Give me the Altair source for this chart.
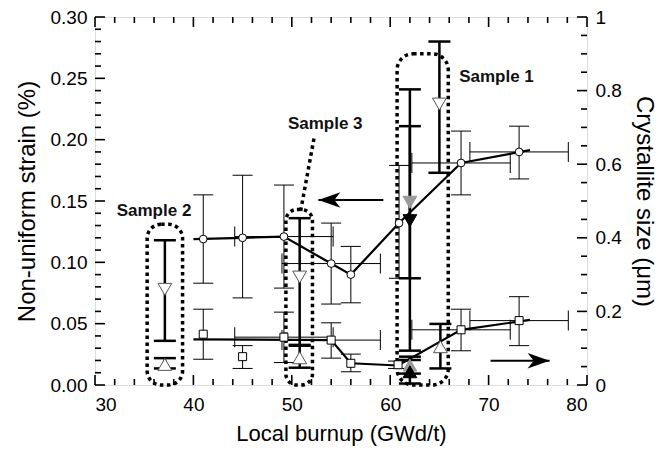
import altair as alt
import pandas as pd

# ---------------- data ----------------
# Non-uniform strain (open circles, left axis, %)
c_x  = [41.0, 45.0, 49.2, 54.0, 56.0, 60.9, 67.2, 73.1]
c_y  = [0.119, 0.120, 0.121, 0.099, 0.090, 0.132, 0.181, 0.190]
c_lo = [0.083, 0.071, 0.079, 0.066, 0.067, 0.087, 0.155, 0.168]
c_hi = [0.155, 0.171, 0.163, 0.132, 0.113, 0.179, 0.207, 0.211]
# circles that carry a horizontal (burnup) error bar
cx_y  = [0.121, 0.099, 0.181, 0.190]
cx_lo = [44.2, 49.0, 62.2, 68.1]
cx_hi = [54.2, 59.0, 72.2, 78.1]
# trend line through the circles
cl_x = [40.0, 45.0, 49.2, 54.0, 56.0, 60.9, 67.2, 74.2]
cl_y = [0.119, 0.120, 0.121, 0.099, 0.090, 0.132, 0.181, 0.1915]

# Crystallite size (open squares, right axis, um)
s_x  = [41.0, 45.0, 49.2, 54.0, 56.0, 60.8, 67.2, 73.1]
s_y  = [0.138, 0.077, 0.130, 0.122, 0.059, 0.055, 0.150, 0.175]
s_lo = [0.070, 0.045, 0.061, 0.073, 0.036, 0.045, 0.093, 0.107]
s_hi = [0.206, 0.107, 0.198, 0.169, 0.084, 0.065, 0.206, 0.240]
sx_y  = [0.130, 0.122, 0.150, 0.175]
sx_lo = [44.2, 49.0, 62.2, 68.1]
sx_hi = [54.2, 59.0, 72.2, 78.1]
sl_x = [40.0, 54.0, 56.0, 60.8, 67.2, 74.2]
sl_y = [0.124, 0.122, 0.059, 0.053, 0.150, 0.177]

# Samples: down triangles = strain (left axis), up triangles = size (right axis)
dt_x    = [37.1, 50.8, 65.0, 62.0, 62.0]
dt_y    = [0.078, 0.088, 0.229, 0.149, 0.134]
dt_lo   = [0.036, 0.032, 0.173, 0.087, 0.028]
dt_hi   = [0.118, 0.136, 0.280, 0.211, 0.241]
dt_kind = ["open", "open", "open", "gray", "black"]
ut_x    = [37.1, 50.8, 65.1, 62.0, 62.0]
ut_y    = [0.056, 0.074, 0.104, 0.054, 0.036]
ut_lo   = [0.045, 0.047, 0.045, 0.031, 0.004]
ut_hi   = [0.073, 0.109, 0.166, 0.077, 0.068]
ut_kind = ["open", "open", "open", "gray", "black"]

# annotations
sample_names = ["Sample 1", "Sample 2", "Sample 3"]
label_x = [70.8, 36.0, 53.4]
label_y = [0.251, 0.142, 0.213]
box_x1 = [60.7, 35.3, 49.4]
box_x2 = [65.9, 38.9, 52.1]
box_y1 = [0.0, 0.0, 0.0]
box_y2 = [0.270, 0.131, 0.143]
conn_x = [50.9, 52.3]
conn_y = [0.142, 0.203]
arrowL_tip, arrowL_tail, arrowL_y = 52.7, 59.3, 0.1508   # left axis
arrowR_tail, arrowR_tip, arrowR_y = 70.2, 76.2, 0.066    # right axis

x_major = [30, 40, 50, 60, 70, 80]
x_minor = [v for v in range(32, 80, 2) if v % 10]
yl_labels = [0.0, 0.05, 0.10, 0.15, 0.20, 0.25, 0.30]
yl_minor = [round(i * 0.01, 2) for i in range(31) if i % 5]
yr_labels = [0.0, 0.2, 0.4, 0.6, 0.8, 1.0]
yr_minor = [round(i * 0.05, 2) for i in range(21) if i % 4]

# ---------------- chart ----------------
W, H = 492, 368
FONT = "Liberation Sans"


def xs():
    return alt.Scale(domain=[30, 80], nice=False, zero=False)


def yL():
    return alt.Scale(domain=[0, 0.30], nice=False, zero=False)


def yR():
    return alt.Scale(domain=[0, 1], nice=False, zero=False)


def X(f):
    return alt.X(f, type="quantitative", scale=xs(), axis=None)


def YL(f):
    return alt.Y(f, type="quantitative", scale=yL(), axis=None)


def YR(f):
    return alt.Y(f, type="quantitative", scale=yR(), axis=None)


circ = pd.DataFrame(dict(x=c_x, y=c_y, lo=c_lo, hi=c_hi))
circ_caps = pd.DataFrame(dict(x=c_x * 2, y=c_lo + c_hi))
circ_h = pd.DataFrame(dict(y=cx_y, lo=cx_lo, hi=cx_hi))
circ_hcaps = pd.DataFrame(dict(x=cx_lo + cx_hi, y=cx_y * 2))
circ_line = pd.DataFrame(dict(x=cl_x, y=cl_y))

sq = pd.DataFrame(dict(x=s_x, y=s_y, lo=s_lo, hi=s_hi))
sq_caps = pd.DataFrame(dict(x=s_x * 2, y=s_lo + s_hi))
sq_h = pd.DataFrame(dict(y=sx_y, lo=sx_lo, hi=sx_hi))
sq_hcaps = pd.DataFrame(dict(x=sx_lo + sx_hi, y=sx_y * 2))
sq_line = pd.DataFrame(dict(x=sl_x, y=sl_y))

dt = pd.DataFrame(dict(x=dt_x, y=dt_y, lo=dt_lo, hi=dt_hi, kind=dt_kind))
dt_caps = pd.DataFrame(dict(x=dt_x * 2, y=dt_lo + dt_hi))
ut = pd.DataFrame(dict(x=ut_x, y=ut_y, lo=ut_lo, hi=ut_hi, kind=ut_kind))
ut_caps = pd.DataFrame(dict(x=ut_x * 2, y=ut_lo + ut_hi))

boxes = pd.DataFrame(dict(name=sample_names, x1=box_x1, x2=box_x2, y1=box_y1, y2=box_y2))
labels = pd.DataFrame(dict(name=sample_names, x=label_x, y=label_y))
conn = pd.DataFrame(dict(x=conn_x, y=conn_y))
arrL = pd.DataFrame(dict(x1=[arrowL_tip], x2=[arrowL_tail], y=[arrowL_y]))
arrR = pd.DataFrame(dict(x1=[arrowR_tail], x2=[arrowR_tip], y=[arrowR_y]))

fill_scale = alt.Scale(domain=["open", "gray", "black"], range=["white", "#9a9a9a", "black"])
stroke_scale = alt.Scale(domain=["open", "gray", "black"], range=["#555555", "#9a9a9a", "black"])

axis_style = dict(ticks=False, domain=False, grid=False, labelFontSize=19,
                  titleFontWeight="normal", labelColor="black",
                  titleColor="black", labelFont=FONT, titleFont=FONT)


# --- tick marks drawn inward ---
def xticks(vals, L):
    d = pd.DataFrame(dict(v=vals))
    bot = alt.Chart(d).mark_rule(color="black", strokeWidth=1.6).encode(
        x=X("v"), y=alt.value(H), y2=alt.value(H - L))
    top = alt.Chart(d).mark_rule(color="black", strokeWidth=1.6).encode(
        x=X("v"), y=alt.value(0), y2=alt.value(L))
    return [bot, top]


def lticks(vals, L):
    d = pd.DataFrame(dict(v=vals))
    return alt.Chart(d).mark_rule(color="black", strokeWidth=1.6).encode(
        y=YL("v"), x=alt.value(0), x2=alt.value(L))


def rticks(vals, L):
    d = pd.DataFrame(dict(v=vals))
    return alt.Chart(d).mark_rule(color="black", strokeWidth=1.6).encode(
        y=YR("v"), x=alt.value(W), x2=alt.value(W - L))


dash = [3.5, 3.5]
box_layers = []
for name, rad in zip(sample_names, [16, 14, 11]):
    box_layers.append(
        alt.Chart(boxes).transform_filter(alt.datum.name == name)
        .mark_rect(fill="white", fillOpacity=0, stroke="black", strokeWidth=3.5,
                   strokeDash=dash, cornerRadius=rad)
        .encode(x=X("x1"), x2="x2", y=YL("y1"), y2="y2")
    )

conn_layer = alt.Chart(conn).mark_line(color="black", strokeWidth=3.5, strokeDash=dash).encode(
    x=X("x"), y=YL("y"))

# axis carriers (invisible)
left_axis = alt.Chart(circ).mark_point(opacity=0).encode(
    x=alt.X("x", type="quantitative", scale=xs(),
            axis=alt.Axis(orient="bottom", values=x_major, title="Local burnup (GWd/t)",
                          labelPadding=10, titlePadding=9, titleFontSize=22, **axis_style)),
    y=alt.Y("y", type="quantitative", scale=yL(),
            axis=alt.Axis(orient="left", values=yl_labels, format=".2f",
                          title="Non-uniform strain (%)", labelPadding=8, titlePadding=11,
                          titleFontSize=24, **axis_style)))
right_axis = alt.Chart(sq).mark_point(opacity=0).encode(
    x=X("x"),
    y=alt.Y("y", type="quantitative", scale=yR(),
            axis=alt.Axis(orient="right", values=yr_labels, format="~g",
                          title="Crystallite size (μm)", labelPadding=8, titlePadding=10,
                          titleFontSize=24, **axis_style)))

circ_line_l = alt.Chart(circ_line).mark_line(color="black", strokeWidth=2.2).encode(x=X("x"), y=YL("y"))
circ_err = alt.Chart(circ).mark_rule(color="black", strokeWidth=1).encode(x=X("x"), y=YL("lo"), y2="hi")
circ_cap = alt.Chart(circ_caps).mark_tick(orient="horizontal", size=20, thickness=1, color="black",
                                          opacity=1).encode(x=X("x"), y=YL("y"))
circ_herr = alt.Chart(circ_h).mark_rule(color="black", strokeWidth=1).encode(x=X("lo"), x2="hi", y=YL("y"))
circ_hcap = alt.Chart(circ_hcaps).mark_tick(orient="vertical", size=20, thickness=1, color="black",
                                            opacity=1).encode(x=X("x"), y=YL("y"))

dt_err = alt.Chart(dt).mark_rule(color="black", strokeWidth=2.5).encode(x=X("x"), y=YL("lo"), y2="hi")
dt_cap = alt.Chart(dt_caps).mark_tick(orient="horizontal", size=22, thickness=2.5, color="black",
                                      opacity=1).encode(x=X("x"), y=YL("y"))
dt_pts = alt.Chart(dt).mark_point(shape="triangle-down", size=190, filled=True, strokeWidth=1,
                                  opacity=1).encode(
    x=X("x"), y=YL("y"),
    fill=alt.Fill("kind:N", scale=fill_scale, legend=None),
    stroke=alt.Stroke("kind:N", scale=stroke_scale, legend=None))
circ_pts = alt.Chart(circ).mark_point(shape="circle", size=60, filled=True, fill="white",
                                      stroke="black", strokeWidth=1, opacity=1).encode(
    x=X("x"), y=YL("y"))

arrL_line = alt.Chart(arrL).mark_rule(color="black", strokeWidth=2).encode(x=X("x1"), x2="x2", y=YL("y"))
arrL_head = alt.Chart(arrL).mark_point(shape="M -1 0 L 1 -0.7 L 0.45 0 L 1 0.7 Z", size=484, filled=True,
                                       color="black", opacity=1, xOffset=11).encode(x=X("x1"), y=YL("y"))

text_layer = alt.Chart(labels).mark_text(font=FONT, fontSize=17, fontWeight="bold", color="#111",
                                         align="center", baseline="middle").encode(
    x=X("x"), y=YL("y"), text="name:N")

sq_line_l = alt.Chart(sq_line).mark_line(color="black", strokeWidth=2.2).encode(x=X("x"), y=YR("y"))
sq_err = alt.Chart(sq).mark_rule(color="black", strokeWidth=1).encode(x=X("x"), y=YR("lo"), y2="hi")
sq_cap = alt.Chart(sq_caps).mark_tick(orient="horizontal", size=20, thickness=1, color="black",
                                      opacity=1).encode(x=X("x"), y=YR("y"))
sq_herr = alt.Chart(sq_h).mark_rule(color="black", strokeWidth=1).encode(x=X("lo"), x2="hi", y=YR("y"))
sq_hcap = alt.Chart(sq_hcaps).mark_tick(orient="vertical", size=20, thickness=1, color="black",
                                        opacity=1).encode(x=X("x"), y=YR("y"))
ut_err = alt.Chart(ut).mark_rule(color="black", strokeWidth=2.5).encode(x=X("x"), y=YR("lo"), y2="hi")
ut_cap = alt.Chart(ut_caps).mark_tick(orient="horizontal", size=22, thickness=2.5, color="black",
                                      opacity=1).encode(x=X("x"), y=YR("y"))
ut_pts = alt.Chart(ut).mark_point(shape="triangle-up", size=190, filled=True, strokeWidth=1,
                                  opacity=1).encode(
    x=X("x"), y=YR("y"),
    fill=alt.Fill("kind:N", scale=fill_scale, legend=None),
    stroke=alt.Stroke("kind:N", scale=stroke_scale, legend=None))
sq_pts = alt.Chart(sq).mark_point(shape="square", size=64, filled=True, fill="white", stroke="black",
                                  strokeWidth=1, opacity=1).encode(x=X("x"), y=YR("y"))
arrR_line = alt.Chart(arrR).mark_rule(color="black", strokeWidth=2).encode(x=X("x1"), x2="x2", y=YR("y"))
arrR_head = alt.Chart(arrR).mark_point(shape="M 1 0 L -1 -0.7 L -0.45 0 L -1 0.7 Z", size=484, filled=True,
                                       color="black", opacity=1, xOffset=-11).encode(x=X("x2"), y=YR("y"))

chart = (
    alt.layer(
        left_axis, right_axis,
        *box_layers, conn_layer,
        *xticks(x_major, 10), *xticks(x_minor, 6), lticks(yl_labels, 10), lticks(yl_minor, 6),
        rticks(yr_labels, 10), rticks(yr_minor, 6),
        circ_line_l, sq_line_l,
        circ_err, circ_cap, circ_herr, circ_hcap,
        sq_err, sq_cap, sq_herr, sq_hcap,
        dt_err, dt_cap, ut_err, ut_cap,
        dt_pts, ut_pts, circ_pts, sq_pts,
        arrL_line, arrL_head, arrR_line, arrR_head, text_layer,
    )
    .resolve_scale(x="independent", y="independent")
    .properties(width=W, height=H, autosize=alt.AutoSizeParams(type="none"),
                padding={"left": 87, "top": 9, "right": 77, "bottom": 66})
    .configure_view(stroke="black", strokeWidth=2.5)
    .configure(font=FONT)
)

chart.save("out.html", embed_options={"renderer": "svg", "actions": False})
